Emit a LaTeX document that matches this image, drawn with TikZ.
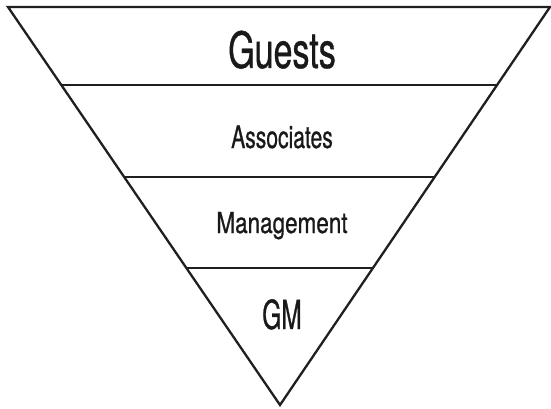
\documentclass[tikz,border=0pt]{standalone}
\usepackage{fontspec}
\setmainfont{TeX Gyre Heros}[FakeStretch=0.68, FakeBold=0.7]
\usetikzlibrary{calc}

\begin{document}
\begin{tikzpicture}[
  x=1pt, y=-1pt,
  edge/.style={line width=2.3pt, line join=miter, color=black!88},
  level/.style={anchor=base, inner sep=0pt, text=black!90}
]
\useasboundingbox (0,0) rectangle (551,409);

\coordinate (TL) at (8,7);
\coordinate (TR) at (550,7);
\coordinate (AP) at (280,405);

% outline of the funnel
\draw[edge] (TL) -- (TR) -- (AP) -- cycle;

% level separators
\foreach \t/\n in {0.196/one, 0.427/two, 0.656/three} {
  \coordinate (L\n) at ($(TL)!\t!(AP)$);
  \coordinate (R\n) at ($(TR)!\t!(AP)$);
  \draw[edge] (L\n) -- (R\n);
}

\node[level] (guests) at (282,68) {\fontsize{50}{50}\selectfont Guests};
\node[level] (assoc) at (282,148) {\fontsize{31}{31}\selectfont Associates};
\node[level] (mgmt) at (282,233) {\fontsize{29}{29}\selectfont\scalebox{1.14}[1]{Management}};
\node[level] (gm) at (282,329) {\fontsize{40}{40}\selectfont\scalebox{0.9}[1]{GM}};

\end{tikzpicture}
\end{document}
